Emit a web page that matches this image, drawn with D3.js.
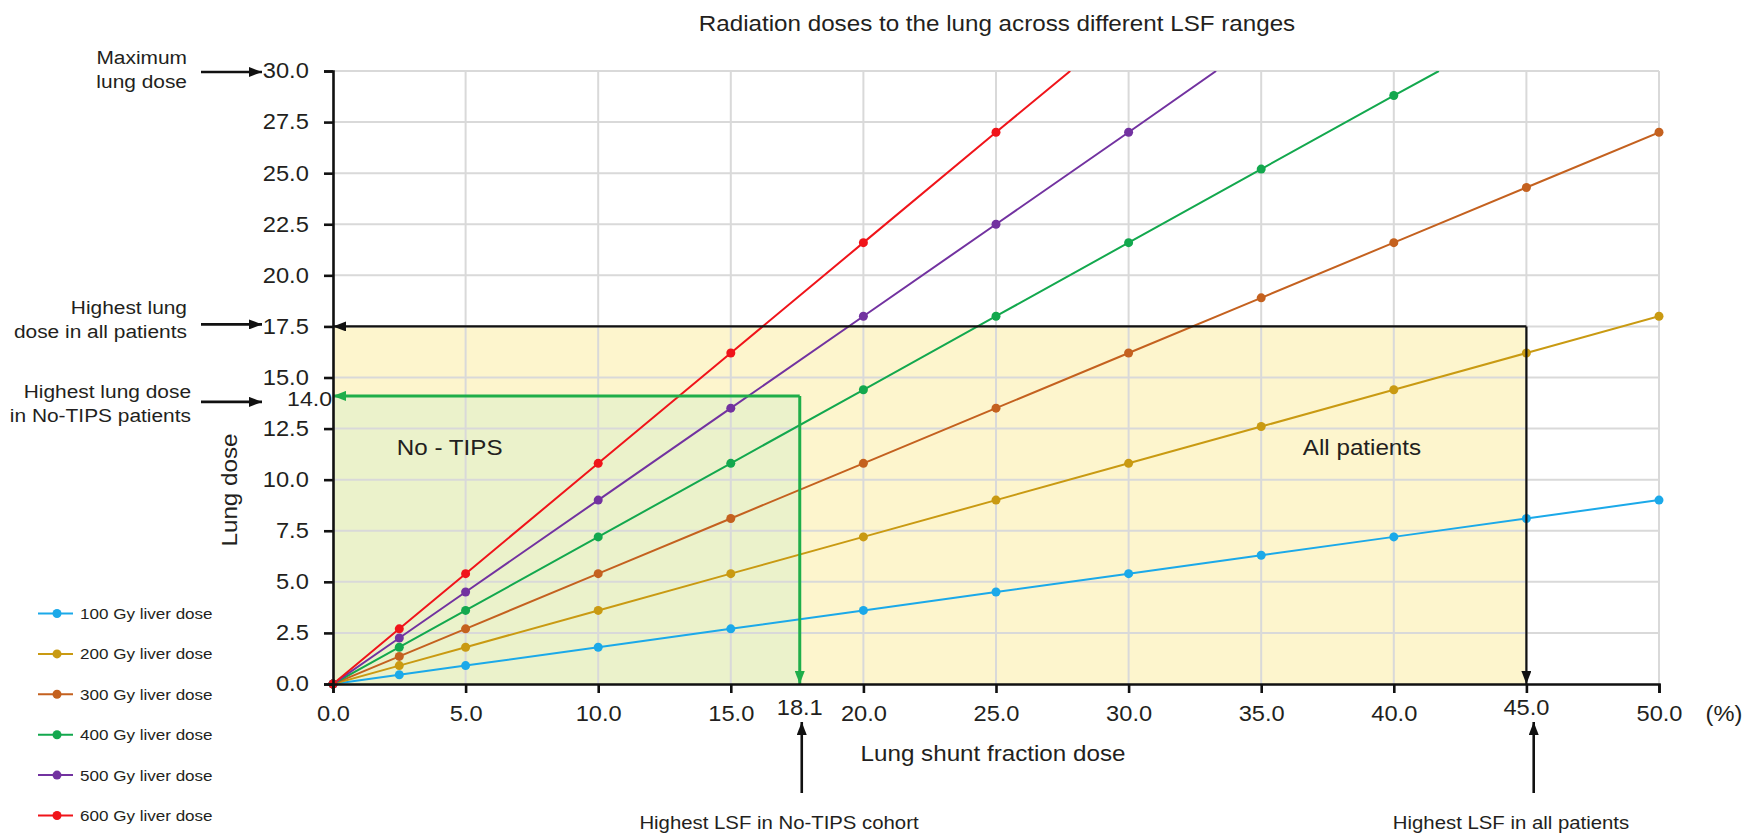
<!DOCTYPE html>
<html>
<head>
<meta charset="utf-8">
<script src="https://cdn.jsdelivr.net/npm/d3@7"></script>
<style>
  body { margin: 0; background: #fff; }
  svg text { font-family: "Liberation Sans", Arial, sans-serif; fill: #231f20; }
</style>
</head>
<body>
<svg id="chart" width="1746" height="833"></svg>
<script>
// LSF values (%) where the dots sit
const lsf = [0, 2.5, 5, 10, 15, 20, 25, 30, 35, 40, 45, 50];

// lung dose for each liver dose
const dose100 = [0, 0.45, 0.9, 1.8, 2.7, 3.6, 4.5, 5.4, 6.3, 7.2, 8.1, 9.0];
const dose200 = [0, 0.9, 1.8, 3.6, 5.4, 7.2, 9.0, 10.8, 12.6, 14.4, 16.2, 18.0];
const dose300 = [0, 1.35, 2.7, 5.4, 8.1, 10.8, 13.5, 16.2, 18.9, 21.6, 24.3, 27.0];
const dose400 = [0, 1.8, 3.6, 7.2, 10.8, 14.4, 18.0, 21.6, 25.2, 28.8];
const dose500 = [0, 2.25, 4.5, 9.0, 13.5, 18.0, 22.5, 27.0];
const dose600 = [0, 2.7, 5.4, 10.8, 16.2, 21.6, 27.0];

const seriesNames = ["100 Gy liver dose", "200 Gy liver dose", "300 Gy liver dose",
                     "400 Gy liver dose", "500 Gy liver dose", "600 Gy liver dose"];
const seriesDoses = [dose100, dose200, dose300, dose400, dose500, dose600];
// LSF where the line runs out of the top of the plot (null = never does)
const exitLsf = [null, null, null, 41.7, 33.3, 27.8];
const colors = ["#1ba9e9", "#c99a12", "#c4611f", "#13a84e", "#7232a0", "#f0141a"];

const xTicks = [0, 5, 10, 15, 20, 25, 30, 35, 40, 45, 50];
const yTicks = [0, 2.5, 5, 7.5, 10, 12.5, 15, 17.5, 20, 22.5, 25, 27.5, 30];

// the two cohort limits
const noTipsLsf = 17.6, noTipsLsfLabel = "18.1";
const noTipsDose = 14.1, noTipsDoseLabel = "14.0";
const allLsf = 45, allDose = 17.5;
const yMax = 30;

const SX = 1.1; // text in the source is a little wide

const svg = d3.select("#chart");
const margin = { top: 71, right: 87, bottom: 149, left: 333 };
const W = 1746, H = 833;

const x = d3.scaleLinear().domain([0, 50]).range([margin.left, W - margin.right]);
const y = d3.scaleLinear().domain([0, 30]).range([H - margin.bottom, margin.top]);

function txt(g, px, py, s, size, anchor, rot) {
  return g.append("text")
    .attr("transform", `translate(${px},${py})` + (rot ? ` rotate(${rot})` : "") + ` scale(${SX},1)`)
    .attr("text-anchor", anchor || "middle")
    .attr("dy", "0.35em")
    .style("font-size", size + "px")
    .text(s);
}

// arrow heads
const defs = svg.append("defs");
[["ahBlack", "#111"], ["ahGreen", "#1fae4a"]].forEach(([id, c]) => {
  defs.append("marker")
    .attr("id", id)
    .attr("viewBox", "0 0 10 10")
    .attr("refX", 10).attr("refY", 5)
    .attr("markerWidth", 13).attr("markerHeight", 10)
    .attr("markerUnits", "userSpaceOnUse")
    .attr("orient", "auto")
    .attr("preserveAspectRatio", "none")
    .append("path").attr("d", "M0,0L10,5L0,10Z").attr("fill", c);
});
defs.append("clipPath").attr("id", "plotClip")
  .append("rect")
  .attr("x", x(0)).attr("y", y(yMax))
  .attr("width", x(50) - x(0)).attr("height", y(0) - y(yMax));

// shaded cohort areas
svg.append("rect")
  .attr("x", x(0)).attr("y", y(allDose))
  .attr("width", x(allLsf) - x(0)).attr("height", y(0) - y(allDose))
  .attr("fill", "#fdf5cd");
svg.append("rect")
  .attr("x", x(0)).attr("y", y(noTipsDose))
  .attr("width", x(noTipsLsf) - x(0)).attr("height", y(0) - y(noTipsDose))
  .attr("fill", "#ebf2cb");

// grid
const grid = svg.append("g").attr("stroke", "#d9d9d9").attr("stroke-width", 2);
grid.selectAll(".gx").data(xTicks.slice(1)).join("line")
  .attr("x1", d => x(d)).attr("x2", d => x(d))
  .attr("y1", y(0)).attr("y2", y(yMax));
grid.selectAll(".gy").data(yTicks.slice(1)).join("line")
  .attr("x1", x(0)).attr("x2", x(50))
  .attr("y1", d => y(d)).attr("y2", d => y(d));

// region labels
txt(svg, x(4.4), y(11.6), "No - TIPS", 22);
txt(svg, x(38.8), y(11.6), "All patients", 22);

// series lines + dots
const line = d3.line().x(d => x(d[0])).y(d => y(d[1]));
const plot = svg.append("g").attr("clip-path", "url(#plotClip)");
seriesDoses.forEach((vals, i) => {
  const pts = vals.map((v, j) => [lsf[j], v]);
  const linePts = exitLsf[i] != null ? pts.concat([[exitLsf[i], yMax]]) : pts;
  plot.append("path")
    .attr("d", line(linePts))
    .attr("fill", "none")
    .attr("stroke", colors[i])
    .attr("stroke-width", 2);
});
seriesDoses.forEach((vals, i) => {
  svg.append("g").selectAll("circle")
    .data(vals.map((v, j) => [lsf[j], v]))
    .join("circle")
    .attr("cx", d => x(d[0])).attr("cy", d => y(d[1]))
    .attr("r", 4.5)
    .attr("fill", colors[i]);
});

// cohort limit arrows
svg.append("path")
  .attr("d", `M${x(allLsf)},${y(allDose)}H${x(0)}`)
  .attr("stroke", "#111").attr("stroke-width", 2.2).attr("fill", "none")
  .attr("marker-end", "url(#ahBlack)");
svg.append("path")
  .attr("d", `M${x(allLsf)},${y(allDose)}V${y(0)}`)
  .attr("stroke", "#111").attr("stroke-width", 2.2).attr("fill", "none")
  .attr("marker-end", "url(#ahBlack)");
svg.append("path")
  .attr("d", `M${x(noTipsLsf)},${y(noTipsDose)}H${x(0)}`)
  .attr("stroke", "#1fae4a").attr("stroke-width", 3).attr("fill", "none")
  .attr("marker-end", "url(#ahGreen)");
svg.append("path")
  .attr("d", `M${x(noTipsLsf)},${y(noTipsDose)}V${y(0)}`)
  .attr("stroke", "#1fae4a").attr("stroke-width", 3).attr("fill", "none")
  .attr("marker-end", "url(#ahGreen)");

// axes
const fmt = d3.format(".1f");
const yAxis = svg.append("g")
  .attr("transform", `translate(${x(0)},0)`)
  .call(d3.axisLeft(y).tickValues(yTicks).tickFormat(fmt).tickSize(9).tickPadding(15));
const xAxis = svg.append("g")
  .attr("transform", `translate(0,${y(0)})`)
  .call(d3.axisBottom(x).tickValues(xTicks).tickSize(9)
    .tickFormat(d => d === allLsf ? "" : fmt(d)));
[yAxis, xAxis].forEach(a => {
  a.selectAll("path.domain").attr("stroke", "#111").attr("stroke-width", 2.6);
  a.selectAll(".tick line").attr("stroke", "#111").attr("stroke-width", 2.6);
  a.selectAll(".tick text")
    .style("font-size", "21.5px")
    .attr("fill", "#231f20")
    .attr("font-family", "Liberation Sans, Arial, sans-serif");
});
yAxis.selectAll(".tick text").attr("transform", `scale(${SX},1)`).attr("x", -22);
xAxis.selectAll(".tick text").attr("transform", `scale(${SX},1)`).attr("y", 29).attr("dy", "0.35em");

// extra tick labels for the limits
txt(svg, x(noTipsLsf), y(0) + 23, noTipsLsfLabel, 21.5);
txt(svg, x(allLsf), y(0) + 23, fmt(allLsf), 21.5);
txt(svg, x(0) - 1, y(noTipsDose) + 3, noTipsDoseLabel, 21, "end");
txt(svg, x(50) + 65, y(0) + 29, "(%)", 21.5);

// titles
txt(svg, 997, 23, "Radiation doses to the lung across different LSF ranges", 22);
txt(svg, x(25) - 3, y(0) + 69, "Lung shunt fraction dose", 22);
txt(svg, 229, 490, "Lung dose", 22, "middle", -90);

// annotations on the left
const annot = svg.append("g");
function leftNote(lines, yText, yArrow, xRight) {
  lines.forEach((s, k) => txt(annot, xRight, yText + k * 24, s, 19, "end"));
  annot.append("path")
    .attr("d", `M201,${yArrow}H262`)
    .attr("stroke", "#111").attr("stroke-width", 2.6)
    .attr("marker-end", "url(#ahBlack)");
}
leftNote(["Maximum", "lung dose"], 57, y(yMax) + 1, 187);
leftNote(["Highest lung", "dose in all patients"], 307, y(allDose) - 2, 187);
leftNote(["Highest lung dose", "in No-TIPS patients"], 391, y(noTipsDose) + 6, 191);

// annotations below
function bottomNote(s, lsfVal, xText) {
  annot.append("path")
    .attr("d", `M${x(lsfVal) + 2},793V722`)
    .attr("stroke", "#111").attr("stroke-width", 2.6)
    .attr("marker-end", "url(#ahBlack)");
  txt(annot, xText, 823, s, 18.5);
}
bottomNote("Highest LSF in No-TIPS cohort", noTipsLsf, 779);
bottomNote("Highest LSF in all patients", allLsf + 0.2, 1511);

// legend
const legend = svg.append("g");
seriesNames.forEach((name, i) => {
  const ly = 613.5 + i * 40.4;
  legend.append("line").attr("x1", 38).attr("x2", 73).attr("y1", ly).attr("y2", ly)
    .attr("stroke", colors[i]).attr("stroke-width", 2);
  legend.append("circle").attr("cx", 57).attr("cy", ly).attr("r", 4.5).attr("fill", colors[i]);
  txt(legend, 80, ly, name, 15.5, "start");
});
</script>
</body>
</html>
